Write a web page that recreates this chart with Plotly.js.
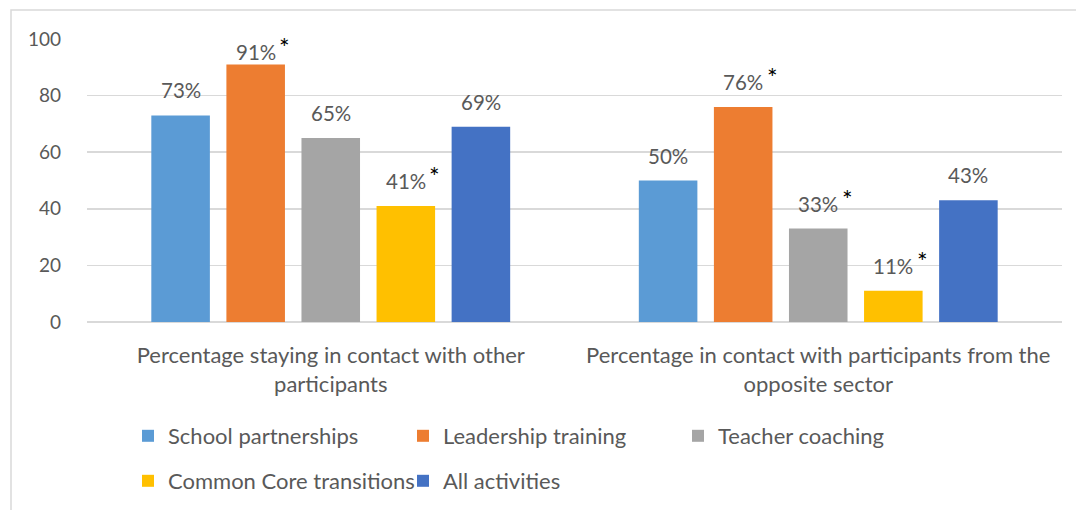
<!DOCTYPE html>
<html>
<head>
<meta charset="utf-8">
<script src="https://cdn.plot.ly/plotly-3.0.1.min.js"></script>
<style>
  html, body { margin: 0; padding: 0; background: #ffffff; }
  #chart { width: 1076px; height: 510px; }
</style>
</head>
<body>
<div id="chart"></div>
<script>
// ---- Data ----
const categories = [
  "Percentage staying in contact with other<br>participants",
  "Percentage in contact with participants from the<br>opposite sector"
];
const seriesNames = ["School partnerships", "Leadership training", "Teacher coaching", "Common Core transitions", "All activities"];
const schoolPartnerships = [73, 50];
const leadershipTraining = [91, 76];
const teacherCoaching = [65, 33];
const commonCoreTransitions = [41, 11];
const allActivities = [69, 43];
// significance markers (asterisks)
const schoolPartnershipsSig = [false, false];
const leadershipTrainingSig = [true, true];
const teacherCoachingSig = [false, true];
const commonCoreTransitionsSig = [true, true];
const allActivitiesSig = [false, false];
const yTickValues = [0, 20, 40, 60, 80, 100];

// ---- Styles ----
const colors = ["#5B9BD5", "#ED7D31", "#A5A5A5", "#FFC000", "#4472C4"];
const textColor = "#595959";
const gridColor = "#D9D9D9";
const fontFamily = "Lato, 'Open Sans', sans-serif";
const textSize = 22;     // category + legend text
const labelSize = 20.5;  // data labels
const tickSize = 19;     // y tick labels
const starSize = 25;

const W = 1076, H = 510;
const M = { l: 87, r: 14, t: 39, b: 188, autoexpand: false };
const plotW = W - M.l - M.r;
const plotH = H - M.t - M.b;
const bargap = 0.23;

const allValues = [schoolPartnerships, leadershipTraining, teacherCoaching, commonCoreTransitions, allActivities];
const allSig = [schoolPartnershipsSig, leadershipTrainingSig, teacherCoachingSig, commonCoreTransitionsSig, allActivitiesSig];
const legendRow = ["legend", "legend", "legend", "legend2", "legend2"];

const traces = allValues.map((vals, i) => ({
  type: "bar",
  name: seriesNames[i],
  x: categories,
  y: vals,
  marker: { color: colors[i], line: { width: 0 } },
  legend: legendRow[i],
  hoverinfo: "skip"
}));

// data labels and asterisks
const nS = allValues.length;
const catW = plotW / categories.length;
const pitch = catW * (1 - bargap) / nS;
const annotations = [];
allValues.forEach((vals, s) => {
  vals.forEach((v, c) => {
    const barTopPx = M.t + (100 - v) / 100 * plotH;
    const labelCenter = Math.max(barTopPx - 25, M.t + 13);
    const ysh = barTopPx - labelCenter;
    const xsh = (s - (nS - 1) / 2) * pitch;
    annotations.push({
      x: categories[c], y: v, xref: "x", yref: "y",
      text: v + "%", showarrow: false,
      xanchor: "center", yanchor: "middle",
      xshift: xsh, yshift: ysh,
      font: { family: fontFamily, size: labelSize, color: textColor }
    });
    if (allSig[s][c]) {
      annotations.push({
        x: categories[c], y: v, xref: "x", yref: "y",
        text: "*", showarrow: false,
        xanchor: "center", yanchor: "middle",
        xshift: xsh + 29, yshift: ysh + 5,
        font: { family: fontFamily, size: starSize, color: "#000000" }
      });
    }
  });
});

// pixel -> paper helpers
const px2paperX = px => (px - M.l) / plotW;
const px2paperY = py => (M.t + plotH - py) / plotH;

const legendCommon = {
  orientation: "h",
  xanchor: "left", yanchor: "middle",
  x: px2paperX(128),
  bgcolor: "rgba(0,0,0,0)",
  font: { family: fontFamily, size: textSize, color: textColor },
  entrywidth: 230,
  traceorder: "normal"
};

const layout = {
  width: W, height: H,
  margin: M,
  paper_bgcolor: "#ffffff",
  plot_bgcolor: "#ffffff",
  font: { family: fontFamily, size: textSize, color: textColor },
  barmode: "group",
  bargap: bargap,
  bargroupgap: 0.22,
  showlegend: true,
  legend: Object.assign({}, legendCommon, { y: px2paperY(436) }),
  legend2: Object.assign({}, legendCommon, { y: px2paperY(481) }),
  xaxis: {
    type: "category",
    automargin: false,
    showgrid: false,
    showline: false,
    zeroline: false,
    ticks: "",
    tickfont: { family: fontFamily, size: textSize, color: textColor },
    ticklabelstandoff: 18,
    fixedrange: true
  },
  yaxis: {
    range: [0, 100],
    automargin: false,
    tickvals: yTickValues,
    ticktext: yTickValues.map(String),
    showgrid: true,
    gridcolor: gridColor,
    gridwidth: 1.5,
    zeroline: true,
    zerolinecolor: gridColor,
    zerolinewidth: 1.5,
    showline: false,
    ticks: "",
    ticklabelstandoff: 25,
    tickfont: { family: fontFamily, size: tickSize, color: textColor },
    fixedrange: true
  },
  annotations: annotations,
  shapes: [{
    type: "rect", xref: "paper", yref: "paper",
    x0: px2paperX(11), x1: px2paperX(W + 5),
    y0: px2paperY(H + 5), y1: px2paperY(10),
    line: { color: gridColor, width: 1.5 },
    fillcolor: "rgba(0,0,0,0)",
    layer: "below"
  }]
};

Plotly.newPlot("chart", traces, layout, { displayModeBar: false, staticPlot: true });
</script>
</body>
</html>
